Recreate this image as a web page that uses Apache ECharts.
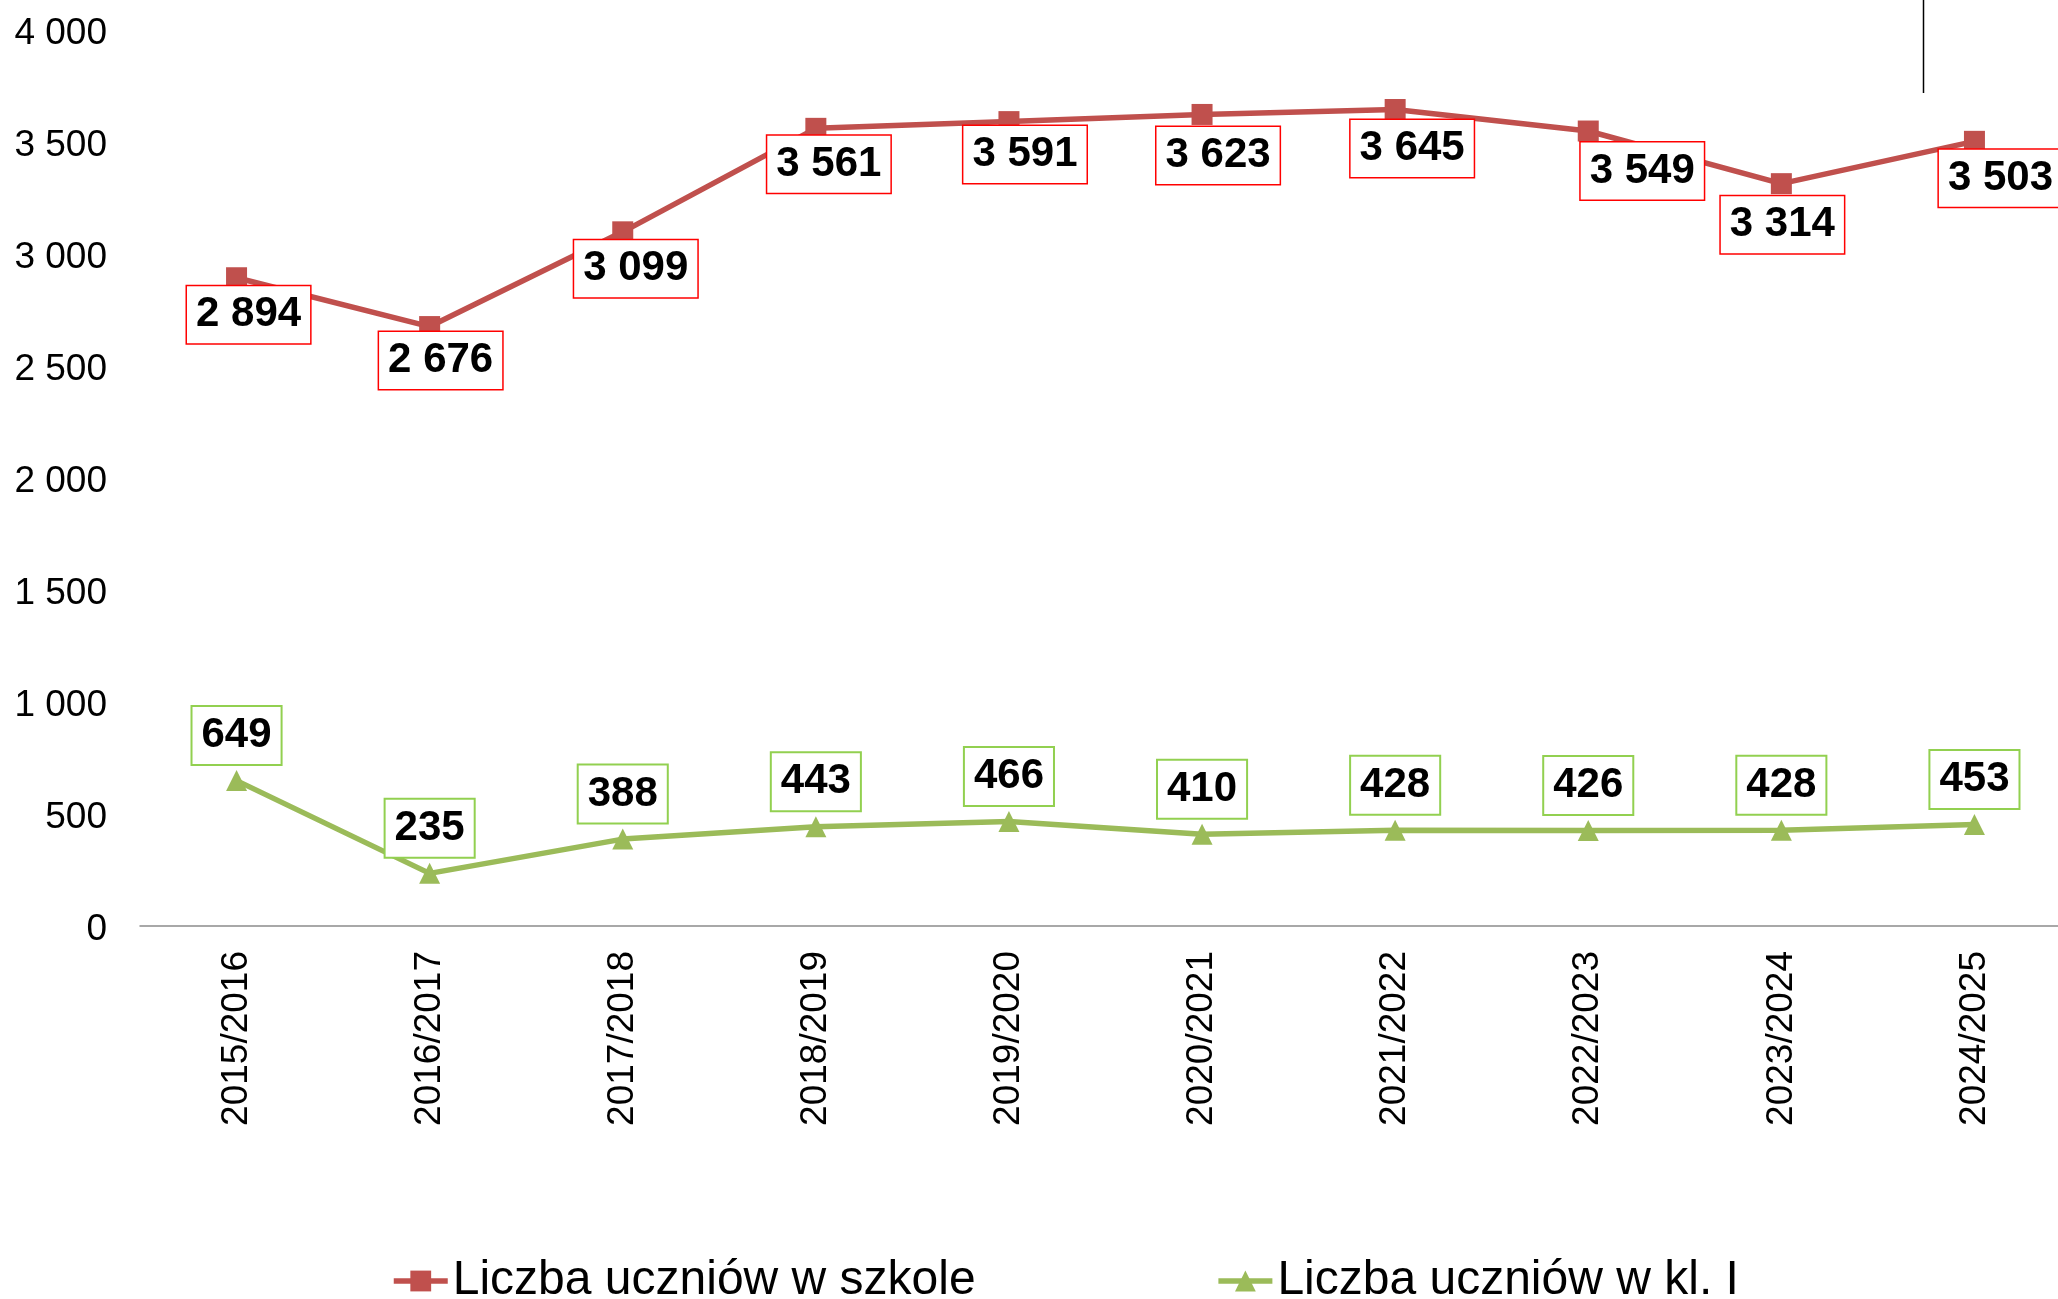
<!DOCTYPE html>
<html>
<head>
<meta charset="utf-8">
<title>Liczba uczniów</title>
<script src="https://cdn.jsdelivr.net/npm/echarts@6/dist/echarts.min.js"></script>
<style>
  html, body { margin: 0; padding: 0; background: #fff; }
  #chart { width: 2058px; height: 1299px; }
</style>
</head>
<body>
<div id="chart"></div>
<script>
  // dane z wykresu
  var categories = ['2015/2016', '2016/2017', '2017/2018', '2018/2019', '2019/2020',
                    '2020/2021', '2021/2022', '2022/2023', '2023/2024', '2024/2025'];
  var szkolaData = [2894, 2676, 3099, 3561, 3591, 3623, 3645, 3549, 3314, 3503];
  var klasaData = [649, 235, 388, 443, 466, 410, 428, 426, 428, 453];
  var yTickLabels = ['0', '500', '1 000', '1 500', '2 000', '2 500', '3 000', '3 500', '4 000'];

  // przesuniecia etykiet (recznie ustawione jak w Excelu)
  var szkolaLabelDx = [12, 11, 13, 13, 16, 16, 17, 54, 1, 26];
  var szkolaLabelDy = [37, 34, 37, 36, 33, 41, 39, 40, 41, 37];

  var font = "'Liberation Sans', Arial, sans-serif";

  function fmt(v) {
    return String(v).replace(/\B(?=(\d{3})+(?!\d))/g, ' ');
  }

  var seriesSzkola = [], seriesKlasa = [];
  for (var i = 0; i < szkolaData.length; i++) {
    seriesSzkola.push({
      value: szkolaData[i],
      label: { offset: [szkolaLabelDx[i], szkolaLabelDy[i]] }
    });
    seriesKlasa.push({
      value: klasaData[i],
      label: { offset: [0, -45] }
    });
  }

  var labelBase = {
    show: true,
    position: 'inside',
    color: '#000',
    fontFamily: font,
    fontWeight: 'bold',
    fontSize: 42,
    lineHeight: 42,
    padding: [9, 9, 6, 9],
    backgroundColor: '#fff',
    formatter: function (p) { return fmt(p.value); }
  };

  var chart = echarts.init(document.getElementById('chart'));
  chart.setOption({
    animation: false,
    backgroundColor: '#fff',
    textStyle: { fontFamily: font },
    grid: {
      left: 140,
      top: 30,
      width: 1931,
      height: 896,
      outerBoundsMode: 'none' // bez tego v6 sciska siatke
    },
    legend: {
      left: 391,
      top: 1257,
      padding: 0,
      itemWidth: 54,
      itemHeight: 26,
      itemGap: 240,
      lineStyle: { width: 5.5 },
      textStyle: { fontSize: 48, color: '#000', fontFamily: font },
      data: ['Liczba uczniów w szkole', 'Liczba uczniów w kl. I']
    },
    xAxis: {
      type: 'category',
      data: categories,
      boundaryGap: true,
      axisLine: { lineStyle: { color: '#8c8c8c', width: 1.5 } },
      axisTick: { inside: true, length: 8, alignWithLabel: true, lineStyle: { color: '#8c8c8c', width: 1.5 } },
      axisLabel: { rotate: 90, margin: 25, fontSize: 37, color: '#000', fontFamily: font }
    },
    yAxis: {
      type: 'value',
      min: 0,
      max: 4000,
      interval: 500,
      axisLine: { show: false },
      axisTick: { show: false },
      splitLine: { show: false },
      axisLabel: {
        margin: 33,
        fontSize: 37,
        color: '#000',
        fontFamily: font,
        formatter: function (value) {
          return '{v|' + yTickLabels[Math.round(value / 500)] + '}';
        },
        rich: {
          // troche nizej, jak w oryginale
          v: { fontSize: 37, fontFamily: font, color: '#000', padding: [8, 0, 0, 0] }
        }
      }
    },
    graphic: [{
      type: 'line',
      shape: { x1: 1923.5, y1: 0, x2: 1923.5, y2: 93 },
      style: { stroke: '#000', lineWidth: 1.5 }
    }],
    series: [
      {
        name: 'Liczba uczniów w szkole',
        type: 'line',
        data: seriesSzkola,
        symbol: 'rect',
        symbolSize: 21,
        itemStyle: { color: '#C0504D' },
        lineStyle: { color: '#C0504D', width: 5.5 },
        label: Object.assign({}, labelBase, { borderColor: '#FF0000', borderWidth: 1.5 }),
        z: 3
      },
      {
        name: 'Liczba uczniów w kl. I',
        type: 'line',
        data: seriesKlasa,
        symbol: 'triangle',
        symbolSize: 21,
        itemStyle: { color: '#9BBB59' },
        lineStyle: { color: '#9BBB59', width: 5.5 },
        label: Object.assign({}, labelBase, { borderColor: '#92D050', borderWidth: 2 }),
        z: 2
      }
    ]
  });
</script>
</body>
</html>
